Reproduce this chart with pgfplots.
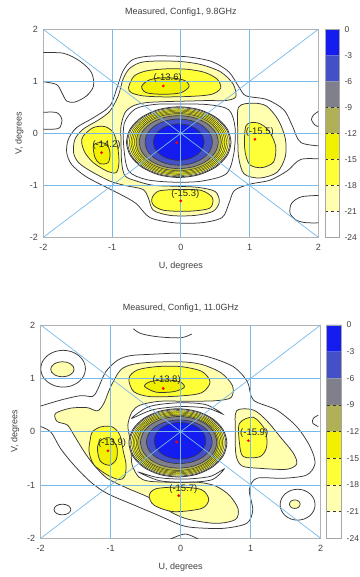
\documentclass[border=0pt]{standalone}
\usepackage{pgfplots}
\pgfplotsset{compat=1.18}
\usepackage{pgfplotstable}
\usepackage{fontspec}
\setmainfont{Liberation Sans}
\definecolor{cb1}{RGB}{20,28,240}
\definecolor{cb2}{RGB}{68,80,200}
\definecolor{cgr}{RGB}{128,128,140}
\definecolor{col}{RGB}{176,176,86}
\definecolor{cya}{RGB}{240,240,0}
\definecolor{cyb}{RGB}{255,255,56}
\definecolor{cpa}{RGB}{255,255,175}
\definecolor{cln}{RGB}{55,55,55}
\definecolor{cgd}{RGB}{120,185,232}
\definecolor{ctx}{RGB}{64,64,64}

\pgfplotstableread{
x y
1 0
0.9239 0.3827
0.7071 0.7071
0.3827 0.9239
0 1
-0.3827 0.9239
-0.7071 0.7071
-0.9239 0.3827
-1 0
-0.9239 -0.3827
-0.7071 -0.7071
-0.3827 -0.9239
0 -1
0.3827 -0.9239
0.7071 -0.7071
0.9239 -0.3827
}\unitcircle

% filled ellipse: fill, a, b, cx, cy, line width
\newcommand{\ellip}[6]{\addplot[draw=cln, line width=#6, fill=#1, smooth cycle] table[x expr={#4+\thisrow{x}*#2}, y expr={#5+\thisrow{y}*#3}]{\unitcircle};}
\newcommand{\ellipline}[4]{\addplot[draw=cln, line width=0.75pt, smooth cycle] table[x expr={#3+\thisrow{x}*#1}, y expr={#4+\thisrow{y}*#2}]{\unitcircle};}

\pgfplotsset{
  mapbase/.style={
    scale only axis, xmin=-2, xmax=2, ymin=-2, ymax=2,
    xtick={-2,-1,0,1,2}, ytick={-2,-1,0,1,2},
    major tick length=0pt,
    axis line style={draw=gray!60, line width=0.6pt},
    tick label style={font=\fontsize{9}{10}\selectfont, text=ctx},
    /pgf/number format/assume math mode=true,
    xticklabel style={yshift=-3.5pt},
    yticklabel style={xshift=-2pt},
    xlabel={U, degrees}, ylabel={V, degrees},
    label style={font=\fontsize{9}{10}\selectfont, text=ctx},
    every axis title/.style={font=\fontsize{9}{10}\selectfont, text=ctx, anchor=center},
  },
  cbar/.style={
    scale only axis, xmin=0, xmax=1, ymin=-24, ymax=0,
    xtick=\empty, ytick={-24,-21,-18,-15,-12,-9,-6,-3,0},
    yticklabel pos=right, major tick length=0pt,
    axis line style={draw=gray!70, line width=0.6pt},
    tick label style={font=\fontsize{8.5}{9}\selectfont, text=ctx},
    /pgf/number format/assume math mode=true,
    yticklabel style={xshift=1.5pt}, axis on top,
  },
  cl/.style={draw=cln, line width=0.75pt},
  gl/.style={draw=cgd, line width=0.7pt},
  pk/.style={only marks, mark=*, mark size=1.2pt, draw=red, fill=red, mark options={draw=red, fill=red}},
}
\newcommand{\pklabel}[3]{\node[font=\fontsize{9.5}{10}\selectfont, text=black!85] at (axis cs:#1,#2) {#3};}

\begin{document}
\begin{tikzpicture}
\path[use as bounding box] (0,0) rectangle (359pt,577pt);

% ================= TOP PANEL =================
\begin{axis}[mapbase, at={(43.3pt,339.7pt)}, anchor=south west,
  width=275pt, height=208pt,
  title={Measured, Config1, 9.8GHz},
  title style={at={(axis description cs:0.5,1.0817)}},
  xlabel style={at={(axis description cs:0.5,-0.139)}, anchor=center},
  ylabel style={at={(axis description cs:-0.0873,0.5)}, anchor=center}]
% outer lines
\addplot[cl, smooth] coordinates {(2.1,-0.25) (1.75,-0.18) (1.62,0.15) (1.5,0.45) (1.25,0.65) (0.95,0.72) (0.85,0.88) (0.7,1.18) (0.45,1.38) (0.1,1.47) (-0.3,1.49) (-0.55,1.47) (-0.72,1.40) (-0.84,1.20) (-0.92,0.91) (-1.03,0.53) (-1.27,0.30) (-1.515,0.11) (-1.636,-0.115) (-1.66,-0.37) (-1.588,-0.60) (-1.394,-0.82) (-1.127,-1.01) (-0.885,-1.17) (-0.65,-1.35) (-0.45,-1.62) (-0.1,-1.72) (0.3,-1.72) (0.6,-1.62) (0.7,-1.35) (0.78,-1.1) (1.0,-0.98) (1.3,-0.9) (1.55,-0.72) (1.75,-0.5) (2.1,-0.5)};
\addplot[cl, smooth] coordinates {(-2.05,1.55) (-1.71,1.54) (-1.47,1.39) (-1.30,1.17) (-1.27,0.91) (-1.37,0.72) (-1.54,0.60) (-1.66,0.62) (-1.73,0.78) (-1.81,0.94) (-2.05,1.0)};
\addplot[cl, smooth] coordinates {(-2.05,0.40) (-1.81,0.40) (-1.73,0.27) (-1.76,0.11) (-1.85,0.08) (-2.05,0.08)};
\addplot[cl, smooth] coordinates {(2.0,0.42) (1.93,0.35) (1.90,0.26) (1.95,0.16) (2.0,0.13)};
\addplot[cl, smooth] coordinates {(2.1,-1.19) (1.76,-1.22) (1.61,-1.35) (1.59,-1.54) (1.68,-1.67) (1.83,-1.72) (2.1,-1.72)};
% pale C region
\addplot[cl, fill=cpa, smooth cycle] coordinates {(0.80,0.70) (0.76,0.95) (0.58,1.18) (0.30,1.32) (0.0,1.38) (-0.35,1.39) (-0.59,1.36) (-0.75,1.24) (-0.84,1.04) (-0.91,0.72) (-1.03,0.43) (-1.18,0.27) (-1.42,0.08) (-1.54,-0.115) (-1.56,-0.37) (-1.49,-0.56) (-1.32,-0.72) (-1.03,-0.92) (-0.79,-1.01) (-0.55,-1.08) (-0.47,-1.25) (-0.40,-1.48) (-0.15,-1.58) (0.2,-1.58) (0.47,-1.50) (0.56,-1.32) (0.50,-1.12) (0.25,-1.04) (-0.05,-1.02) (-0.40,-1.00) (-0.64,-0.92) (-0.81,-0.82) (-0.86,-0.56) (-0.87,-0.115) (-0.87,0.14) (-0.81,0.40) (-0.69,0.53) (-0.50,0.59) (-0.2,0.61) (0.1,0.62) (0.40,0.63) (0.65,0.63)};
% right lobe pale
\addplot[cl, fill=cpa, smooth cycle] coordinates {(0.84,0.50) (1.05,0.58) (1.25,0.52) (1.42,0.25) (1.52,-0.10) (1.52,-0.45) (1.40,-0.75) (1.15,-0.86) (0.92,-0.78) (0.84,-0.45) (0.83,0.0)};
% -18 regions
\addplot[cl, fill=cyb, smooth cycle] coordinates {(-0.76,0.88) (-0.68,1.10) (-0.50,1.20) (-0.20,1.24) (0.10,1.23) (0.35,1.17) (0.53,1.04) (0.58,0.87) (0.45,0.75) (0.15,0.71) (-0.25,0.70) (-0.55,0.72) (-0.72,0.78)};
\addplot[cl, fill=cyb, smooth cycle] coordinates {(-1.418,-0.05) (-1.273,0.11) (-1.103,0.128) (-0.982,0.013) (-0.92,-0.244) (-0.90,-0.564) (-0.94,-0.756) (-1.079,-0.724) (-1.273,-0.564) (-1.394,-0.372) (-1.442,-0.18)};
\addplot[cl, fill=cyb, smooth cycle] coordinates {(0.95,0.15) (1.12,0.20) (1.28,0.05) (1.38,-0.25) (1.35,-0.55) (1.18,-0.66) (1.00,-0.60) (0.93,-0.30)};
\addplot[cl, fill=cyb, smooth cycle] coordinates {(-0.42,-1.25) (-0.32,-1.11) (0.0,-1.08) (0.30,-1.10) (0.46,-1.24) (0.42,-1.44) (0.10,-1.50) (-0.25,-1.48) (-0.40,-1.38)};
% -15 regions
\addplot[cl, fill=cya, smooth cycle] coordinates {(-0.57,0.90) (-0.45,1.03) (-0.20,1.07) (0.05,1.02) (0.12,0.90) (0.0,0.78) (-0.25,0.75) (-0.50,0.78)};
\addplot[cl, fill=cya, smooth cycle] coordinates {(-1.273,-0.244) (-1.2,-0.18) (-1.079,-0.21) (-1.03,-0.372) (-1.055,-0.564) (-1.176,-0.583) (-1.248,-0.468)};
% ring around main beam
\addplot[cl, smooth cycle] coordinates {(-0.05,0.565) (0.40,0.55) (0.70,0.45) (0.79,0.10) (0.77,-0.40) (0.66,-0.78) (0.30,-0.92) (-0.10,-0.94) (-0.50,-0.89) (-0.76,-0.72) (-0.83,-0.25) (-0.82,0.20) (-0.66,0.47) (-0.38,0.555)};
% main beam
\ellip{white}{0.76}{0.68}{-0.03}{-0.17}{0.8pt}
\ellip{cpa}{0.745}{0.665}{-0.03}{-0.17}{0.6pt}
\ellip{cyb}{0.72}{0.643}{-0.03}{-0.17}{0.45pt}
\ellip{cya}{0.695}{0.62}{-0.03}{-0.17}{0.45pt}
\ellip{cyb}{0.67}{0.597}{-0.03}{-0.17}{0.45pt}
\ellip{cya}{0.645}{0.574}{-0.03}{-0.17}{0.45pt}
\ellip{col}{0.62}{0.551}{-0.03}{-0.17}{0.5pt}
\ellip{cgr}{0.575}{0.51}{-0.03}{-0.17}{0.6pt}
\ellip{cb2}{0.49}{0.445}{-0.03}{-0.17}{0.6pt}
\ellip{cb1}{0.37}{0.35}{-0.03}{-0.17}{0.6pt}
% grid
\addplot[gl] coordinates {(-1,-2) (-1,2)};
\addplot[gl] coordinates {(0,-2) (0,2)};
\addplot[gl] coordinates {(1,-2) (1,2)};
\addplot[gl] coordinates {(-2,-1) (2,-1)};
\addplot[gl] coordinates {(-2,0) (2,0)};
\addplot[gl] coordinates {(-2,1) (2,1)};
\addplot[gl] coordinates {(-2,-2) (2,2)};
\addplot[gl] coordinates {(-2,2) (2,-2)};
% peaks
\addplot[pk] coordinates {(-0.255,0.91) (-1.152,-0.372) (1.079,-0.115) (0.0,-1.30) (-0.06,-0.18)};
\pklabel{-0.19}{1.07}{(-13.6)}
\pklabel{-1.08}{-0.224}{(-14.2)}
\pklabel{1.15}{0.032}{(-15.5)}
\pklabel{0.065}{-1.167}{(-15.3)}
\end{axis}

\begin{axis}[cbar, at={(325pt,339.7pt)}, anchor=south west, width=14.5pt, height=208pt]
\addplot[fill=cb1, draw=none] coordinates {(0,0) (1,0) (1,-3) (0,-3) (0,0)};
\addplot[fill=cb2, draw=none] coordinates {(0,-3) (1,-3) (1,-6) (0,-6) (0,-3)};
\addplot[fill=cgr, draw=none] coordinates {(0,-6) (1,-6) (1,-9) (0,-9) (0,-6)};
\addplot[fill=col, draw=none] coordinates {(0,-9) (1,-9) (1,-12) (0,-12) (0,-9)};
\addplot[fill=cya, draw=none] coordinates {(0,-12) (1,-12) (1,-15) (0,-15) (0,-12)};
\addplot[fill=cyb, draw=none] coordinates {(0,-15) (1,-15) (1,-18) (0,-18) (0,-15)};
\addplot[fill=cpa, draw=none] coordinates {(0,-18) (1,-18) (1,-21) (0,-21) (0,-18)};
\addplot[fill=white, draw=none] coordinates {(0,-21) (1,-21) (1,-24) (0,-24) (0,-21)};
\addplot[cln, dashed, line width=0.6pt] coordinates {(0,-9) (1,-9)};
\addplot[cln, dashed, line width=0.6pt] coordinates {(0,-12) (1,-12)};
\addplot[cln, dashed, line width=0.6pt] coordinates {(0,-15) (1,-15)};
\addplot[cln, dashed, line width=0.6pt] coordinates {(0,-18) (1,-18)};
\addplot[cln, dashed, line width=0.6pt] coordinates {(0,-21) (1,-21)};
\end{axis}

% ================= BOTTOM PANEL =================
\begin{axis}[mapbase, at={(40.7pt,38.7pt)}, anchor=south west,
  width=280pt, height=213.3pt,
  title={Measured, Config1, 11.0GHz},
  title style={at={(axis description cs:0.5,1.0797)}},
  xlabel style={at={(axis description cs:0.5,-0.1345)}, anchor=center},
  ylabel style={at={(axis description cs:-0.092,0.5)}, anchor=center}]
% outer lines
\addplot[cl, smooth] coordinates {(-2.05,0.46) (-1.72,0.59) (-1.43,0.675) (-1.26,0.66) (-1.19,0.78) (-1.07,1.125) (-0.9,1.34) (-0.72,1.425) (-0.43,1.45) (0,1.47) (0.371,1.41) (0.752,1.219) (0.952,0.938) (1.038,0.594) (1.371,0.406) (1.657,0.094) (1.848,-0.281) (1.919,-0.594) (1.8,-0.813) (1.467,-0.875) (1.086,-0.875) (0.981,-1.094) (1.029,-1.469) (0.943,-1.719) (0.61,-1.813) (0.2,-1.8) (0,-1.75) (-0.336,-1.56) (-0.67,-1.375) (-1.05,-1.16) (-1.29,-0.94) (-1.527,-0.625) (-1.72,-0.31) (-1.86,0.0) (-2.05,0.12)};
\addplot[cl, smooth] coordinates {(-0.676,1.93) (-0.57,1.84) (-0.333,1.78) (0.0,1.76) (0.157,1.83)};
\addplot[cl, smooth] coordinates {(-0.2,-2.05) (0.062,-1.92) (0.3,-2.05)};
\addplot[cl, smooth] coordinates {(1.967,0.31) (1.895,0.25) (1.886,0.16) (1.967,0.094)};
\ellipline{0.32}{0.345}{-1.68}{1.18}
\ellip{cpa}{0.167}{0.14}{-1.69}{1.17}{0.75pt}
\ellipline{0.25}{0.29}{1.67}{-1.37}
\ellip{cpa}{0.076}{0.08}{1.63}{-1.36}{0.75pt}
\ellipline{0.12}{0.10}{-1.69}{-1.46}
% big pale region
\addplot[cl, fill=cpa, smooth cycle] coordinates {(-1.79,0.34) (-1.575,0.44) (-1.336,0.45) (-1.19,0.39) (-1.098,0.53) (-1.0,0.844) (-0.86,1.156) (-0.69,1.26) (-0.43,1.30) (0.0,1.31) (0.3,1.26) (0.58,1.10) (0.74,0.86) (0.72,0.64) (0.5,0.58) (0.1,0.57) (-0.3,0.57) (-0.575,0.50) (-0.694,0.375) (-0.755,0.125) (-0.727,-0.125) (-0.708,-0.375) (-0.694,-0.625) (-0.6,-0.85) (-0.45,-0.93) (-0.1,-0.95) (0.25,-0.95) (0.5,-1.02) (0.7,-1.2) (0.82,-1.45) (0.78,-1.65) (0.5,-1.72) (0.1,-1.64) (-0.15,-1.50) (-0.43,-1.25) (-0.764,-1.06) (-1.05,-0.875) (-1.24,-0.625) (-1.38,-0.375) (-1.527,-0.06) (-1.62,0.125) (-1.765,0.19)};
% right lobe pale
\addplot[cl, fill=cpa, smooth cycle] coordinates {(0.80,0.394) (1.038,0.406) (1.229,0.206) (1.419,-0.094) (1.61,-0.406) (1.657,-0.606) (1.514,-0.706) (1.133,-0.688) (0.878,-0.644) (0.79,-0.438) (0.78,0.031)};
% -18 regions
\addplot[cl, fill=cyb, smooth cycle] coordinates {(-0.74,1.0) (-0.62,1.156) (-0.336,1.22) (0.0,1.22) (0.3,1.13) (0.42,0.93) (0.30,0.73) (0.0,0.67) (-0.43,0.656) (-0.67,0.75)};
\addplot[cl, fill=cyb, smooth cycle] coordinates {(-1.29,-0.13) (-1.31,-0.37) (-1.24,-0.62) (-1.05,-0.81) (-0.88,-0.9) (-0.80,-0.84) (-0.78,-0.62) (-0.82,-0.37) (-0.87,-0.06) (-0.98,0.09) (-1.14,0.09) (-1.26,0.0)};
\addplot[cl, fill=cyb, smooth cycle] coordinates {(0.84,0.156) (1.038,0.269) (1.205,0.031) (1.229,-0.281) (1.133,-0.469) (0.895,-0.469) (0.84,-0.219)};
\addplot[cl, fill=cyb, smooth cycle] coordinates {(-0.45,-1.2) (-0.35,-1.07) (0.0,-1.04) (0.3,-1.09) (0.40,-1.27) (0.3,-1.44) (-0.1,-1.50) (-0.38,-1.38)};
% -15 regions
\addplot[cl, fill=cya, smooth cycle] coordinates {(-0.517,0.85) (-0.43,0.94) (-0.2,0.97) (0.0,0.93) (0.05,0.83) (-0.1,0.75) (-0.35,0.74)};
\addplot[cl, fill=cya, smooth cycle] coordinates {(-1.19,-0.3) (-1.13,-0.15) (-1.0,-0.12) (-0.91,-0.3) (-0.92,-0.52) (-1.02,-0.63) (-1.15,-0.55)};
% crescents around main beam
\addplot[cl, smooth cycle] coordinates {(-0.70,0.25) (-0.45,0.47) (-0.05,0.54) (0.35,0.51) (0.60,0.33) (0.38,0.44) (0.0,0.47) (-0.40,0.41)};
\addplot[cl, smooth cycle] coordinates {(-0.60,-0.76) (-0.30,-0.92) (0.10,-0.95) (0.45,-0.90) (0.62,-0.70) (0.42,-0.84) (0.05,-0.89) (-0.33,-0.86)};
% main beam
\ellip{white}{0.70}{0.64}{-0.04}{-0.21}{0.8pt}
\ellip{cpa}{0.685}{0.625}{-0.04}{-0.21}{0.6pt}
\ellip{cyb}{0.662}{0.604}{-0.04}{-0.21}{0.45pt}
\ellip{cya}{0.64}{0.583}{-0.04}{-0.21}{0.45pt}
\ellip{cyb}{0.618}{0.562}{-0.04}{-0.21}{0.45pt}
\ellip{cya}{0.596}{0.541}{-0.04}{-0.21}{0.45pt}
\ellip{col}{0.575}{0.52}{-0.04}{-0.21}{0.5pt}
\ellip{cgr}{0.545}{0.485}{-0.03}{-0.20}{0.6pt}
\ellip{cb2}{0.47}{0.41}{-0.02}{-0.19}{0.6pt}
\ellip{cb1}{0.37}{0.345}{-0.01}{-0.17}{0.6pt}
% grid
\addplot[gl] coordinates {(-1,-2) (-1,2)};
\addplot[gl] coordinates {(0,-2) (0,2)};
\addplot[gl] coordinates {(1,-2) (1,2)};
\addplot[gl] coordinates {(-2,-1) (2,-1)};
\addplot[gl] coordinates {(-2,0) (2,0)};
\addplot[gl] coordinates {(-2,1) (2,1)};
\addplot[gl] coordinates {(-2,-2) (2,2)};
\addplot[gl] coordinates {(-2,2) (2,-2)};
% peaks
\addplot[pk] coordinates {(-0.25,0.81) (-1.04,-0.36) (0.967,-0.169) (-0.027,-1.20) (-0.06,-0.19)};
\pklabel{-0.20}{0.965}{(-13.8)}
\pklabel{-0.98}{-0.22}{(-13.9)}
\pklabel{1.05}{-0.03}{(-15.9)}
\pklabel{0.038}{-1.075}{(-15.7)}
\end{axis}

\begin{axis}[cbar, at={(326.7pt,38.7pt)}, anchor=south west, width=15pt, height=213.3pt]
\addplot[fill=cb1, draw=none] coordinates {(0,0) (1,0) (1,-3) (0,-3) (0,0)};
\addplot[fill=cb2, draw=none] coordinates {(0,-3) (1,-3) (1,-6) (0,-6) (0,-3)};
\addplot[fill=cgr, draw=none] coordinates {(0,-6) (1,-6) (1,-9) (0,-9) (0,-6)};
\addplot[fill=col, draw=none] coordinates {(0,-9) (1,-9) (1,-12) (0,-12) (0,-9)};
\addplot[fill=cya, draw=none] coordinates {(0,-12) (1,-12) (1,-15) (0,-15) (0,-12)};
\addplot[fill=cyb, draw=none] coordinates {(0,-15) (1,-15) (1,-18) (0,-18) (0,-15)};
\addplot[fill=cpa, draw=none] coordinates {(0,-18) (1,-18) (1,-21) (0,-21) (0,-18)};
\addplot[fill=white, draw=none] coordinates {(0,-21) (1,-21) (1,-24) (0,-24) (0,-21)};
\addplot[cln, dashed, line width=0.6pt] coordinates {(0,-9) (1,-9)};
\addplot[cln, dashed, line width=0.6pt] coordinates {(0,-12) (1,-12)};
\addplot[cln, dashed, line width=0.6pt] coordinates {(0,-15) (1,-15)};
\addplot[cln, dashed, line width=0.6pt] coordinates {(0,-18) (1,-18)};
\addplot[cln, dashed, line width=0.6pt] coordinates {(0,-21) (1,-21)};
\end{axis}
\end{tikzpicture}
\end{document}
